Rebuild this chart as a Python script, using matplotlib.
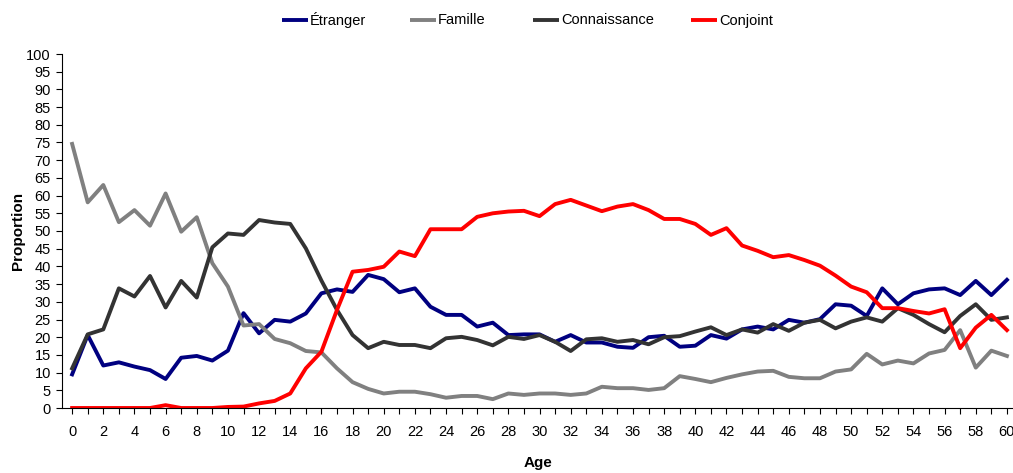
import matplotlib
matplotlib.use("Agg")
import matplotlib.pyplot as plt
from matplotlib.lines import Line2D
import numpy as np

ages = list(range(0, 61))

etranger = [9.5, 20.6, 12.0, 12.9, 11.7, 10.7, 8.2, 14.2, 14.7, 13.4,
            16.2, 26.8, 21.1, 24.9, 24.4, 26.7, 32.4, 33.5, 32.8, 37.6,
            36.4, 32.7, 33.8, 28.6, 26.3, 26.3, 23.0, 24.1, 20.6, 20.8,
            20.8, 18.7, 20.6, 18.5, 18.5, 17.3, 17.0, 20.0, 20.4, 17.3,
            17.6, 20.6, 19.6, 22.2, 23.0, 22.2, 24.9, 24.1, 25.1, 29.3,
            28.9, 26.0, 33.8, 29.3, 32.4, 33.5, 33.8, 31.9, 35.9, 31.9,
            36.2]

famille = [74.6, 58.1, 63.0, 52.5, 55.9, 51.5, 60.6, 49.8, 53.9, 40.9,
           34.3, 23.3, 23.7, 19.5, 18.3, 16.1, 15.7, 11.2, 7.3, 5.4,
           4.1, 4.6, 4.6, 3.9, 2.9, 3.4, 3.4, 2.5, 4.1, 3.7,
           4.1, 4.1, 3.7, 4.1, 6.0, 5.6, 5.6, 5.1, 5.6, 9.0,
           8.2, 7.3, 8.5, 9.5, 10.3, 10.5, 8.8, 8.4, 8.4, 10.3,
           10.9, 15.3, 12.3, 13.4, 12.6, 15.4, 16.4, 22.0, 11.4, 16.2,
           14.7]

connaissance = [11.2, 20.8, 22.2, 33.8, 31.5, 37.3, 28.4, 35.9, 31.2, 45.4,
                49.3, 48.9, 53.1, 52.4, 52.0, 45.1, 36.0, 27.7, 20.6, 16.9,
                18.7, 17.8, 17.8, 16.9, 19.7, 20.1, 19.2, 17.7, 20.1, 19.5,
                20.6, 18.7, 16.1, 19.4, 19.7, 18.7, 19.2, 18.0, 20.0, 20.3,
                21.6, 22.8, 20.6, 22.2, 21.3, 23.7, 21.8, 24.1, 24.9, 22.5,
                24.4, 25.6, 24.4, 28.2, 26.3, 23.7, 21.4, 26.0, 29.3, 24.9,
                25.6]

conjoint = [0.0, 0.0, 0.0, 0.0, 0.0, 0.0, 0.8, 0.0, 0.0, 0.0,
            0.3, 0.4, 1.3, 2.0, 4.1, 11.2, 15.9, 27.7, 38.5, 39.0,
            39.9, 44.2, 42.9, 50.5, 50.5, 50.5, 54.0, 55.0, 55.5, 55.7,
            54.2, 57.6, 58.8, 57.2, 55.6, 56.9, 57.6, 55.9, 53.4, 53.4,
            52.0, 48.9, 50.8, 45.9, 44.4, 42.6, 43.2, 41.8, 40.2, 37.4,
            34.3, 32.7, 28.2, 28.2, 27.4, 26.7, 27.9, 16.9, 22.7, 26.3,
            22.0]

series_names = ["Étranger", "Famille", "Connaissance", "Conjoint"]
series_colors = ["#000080", "#808080", "#333333", "#FF0000"]

plt.rcParams['font.family'] = ['Liberation Sans', 'DejaVu Sans']

fig = plt.figure(figsize=(10.13, 4.73), dpi=100)
W, H = 1013, 473
ax = fig.add_axes([62 / W, (H - 408) / H, (W - 62) / W, (408 - 54) / H])

for vals, name, col in zip([etranger, famille, connaissance, conjoint], series_names, series_colors):
    ax.plot(ages, vals, color=col, linewidth=2.8, label=name)

ax.set_xlim(-0.65, 60.39)
ax.set_ylim(0, 100)
ax.set_yticks(np.arange(0, 101, 5))
ax.set_xticks(np.arange(0, 61, 1))
ax.set_xticklabels([str(a) if a % 2 == 0 else "" for a in ages])
ax.tick_params(axis='x', direction='out', length=4, width=0.8, pad=8.3, labelsize=10.5)
ax.tick_params(axis='y', direction='out', length=4, width=0.8, pad=4, labelsize=10.5)
for s in ['top', 'right']:
    ax.spines[s].set_visible(False)
for s in ['left', 'bottom']:
    ax.spines[s].set_linewidth(0.8)
ax.set_xlabel("Age", fontsize=11, fontweight='bold', labelpad=12.5)
ax.set_ylabel("Proportion", fontsize=11, fontweight='bold')
ax.yaxis.set_label_coords(-37 / (W - 62), 0.5)

# legend: key line + label, placed at the reference positions
legend_x = [282, 410, 533, 691]
ly = (H - 20) / H
base = (H - 20 - 4.5) / H
for name, col, lx in zip(series_names, series_colors, legend_x):
    fig.add_artist(Line2D([lx / W, (lx + 26) / W], [ly, ly], transform=fig.transFigure,
                          color=col, linewidth=2.8, solid_capstyle='butt'))
    fig.text((lx + 28) / W, base, name, fontsize=10.5, ha='left', va='baseline')

fig.savefig("out.png", dpi=100)
